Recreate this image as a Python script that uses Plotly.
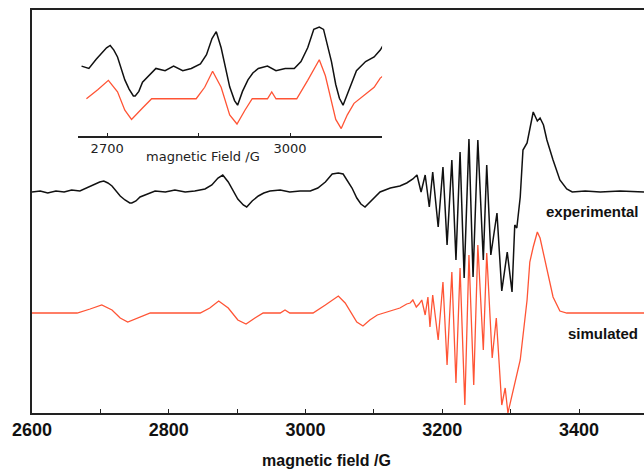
import plotly.graph_objects as go

# ---------------- data ----------------
exp_field = [2600, 2612, 2623, 2635, 2647, 2658, 2670, 2682, 2692, 2699, 2705, 2711, 2717, 2723,
             2729, 2736, 2743, 2746, 2752, 2758, 2769, 2780, 2795, 2809, 2824, 2838, 2853, 2863,
             2872, 2879, 2887, 2894, 2901, 2909, 2914, 2922, 2931, 2939, 2948, 2963, 2977, 2992,
             3007, 3018, 3029, 3039, 3048, 3055, 3062, 3068, 3075, 3081, 3087, 3094, 3102, 3109,
             3124, 3138, 3148, 3157, 3163, 3169, 3175, 3181, 3186, 3194, 3201, 3207, 3214, 3220,
             3226, 3232, 3239, 3245, 3252, 3260, 3265, 3271, 3280, 3287, 3295, 3302, 3306, 3309,
             3314, 3318, 3324, 3328, 3333, 3339, 3343, 3348, 3353, 3362, 3372, 3382, 3390, 3409,
             3431, 3460, 3495]
exp_int = [221, 222, 220, 222, 221, 223, 222, 226, 229, 231, 232, 230, 227, 222,
           217, 213, 210, 210, 212, 216, 219, 222, 221, 223, 221, 222, 224, 228,
           235, 238, 231, 222, 214, 208, 206, 212, 217, 220, 222, 223, 221, 222,
           222, 225, 231, 239, 240, 239, 232, 225, 215, 209, 206, 211, 216, 221,
           225, 227, 230, 234, 238, 221, 238, 206, 241, 186, 246, 168, 253, 153,
           261, 135, 274, 136, 273, 153, 248, 158, 200, 122, 161, 121, 188, 185,
           216, 263, 270, 285, 301, 292, 295, 288, 273, 253, 233, 224, 221, 222,
           221, 222, 221]

sim_field = [2600, 2666, 2685, 2702, 2717, 2729, 2740, 2758, 2773, 2846, 2860, 2873, 2887, 2901,
             2913, 2926, 2938, 2963, 2970, 2977, 3011, 3029, 3048, 3058, 3068, 3075, 3084, 3094,
             3105, 3124, 3138, 3148, 3153, 3157, 3162, 3166, 3170, 3175, 3179, 3182, 3186, 3194,
             3201, 3207, 3214, 3220, 3226, 3233, 3239, 3246, 3252, 3260, 3265, 3273, 3279, 3287,
             3292, 3296, 3303, 3314, 3324, 3328, 3333, 3339, 3343, 3353, 3362, 3372, 3382, 3495]
sim_int = [100, 100, 104, 108, 103, 95, 91, 96, 100, 100, 105, 112, 105, 93,
           89, 95, 100, 100, 103, 100, 100, 108, 117, 110, 98, 91, 87, 93,
           98, 102, 105, 109, 110, 113, 106, 109, 113, 98, 116, 86, 118, 73,
           131, 48, 141, 30, 145, 8, 158, 28, 168, 63, 160, 55, 95, 8,
           25, 0, 20, 53, 113, 151, 166, 181, 175, 143, 116, 102, 100, 100]

exp_base = 221
sim_base = 100
inset_exp_base = 28.3
inset_sim_base = 16.1
inset_lo, inset_hi = 2652, 3151

main_ticks = [2600, 2800, 3000, 3200, 3400]
inset_tickvals = [2700, 2850, 3000]
inset_ticktext = ["2700", "", "3000"]

BLACK = "#111111"
RED = "#ff5435"

# inset series: same data, shifted to its own baselines
def cut(f, v):
    pts = [(a, b) for a, b in zip(f, v) if inset_lo <= a <= inset_hi + 10]
    return [p[0] for p in pts], [p[1] for p in pts]

ief, iev = cut(exp_field, exp_int)
isf, isv = cut(sim_field, sim_int)
iev = [v - exp_base + inset_exp_base for v in iev]
isv = [v - sim_base + inset_sim_base for v in isv]

fig = go.Figure()
fig.add_trace(go.Scatter(x=exp_field, y=exp_int, mode="lines",
                         line=dict(color=BLACK, width=1.5), showlegend=False))
fig.add_trace(go.Scatter(x=sim_field, y=sim_int, mode="lines",
                         line=dict(color=RED, width=1.3), showlegend=False))
fig.add_trace(go.Scatter(x=ief, y=iev, mode="lines", xaxis="x2", yaxis="y2",
                         line=dict(color=BLACK, width=1.5), showlegend=False))
fig.add_trace(go.Scatter(x=isf, y=isv, mode="lines", xaxis="x2", yaxis="y2",
                         line=dict(color=RED, width=1.3), showlegend=False))

fig.update_layout(
    width=644, height=470,
    margin=dict(l=32, r=0, t=10, b=57),
    paper_bgcolor="white", plot_bgcolor="white",
    font=dict(family="Liberation Sans, Arial, sans-serif", color="#111111"),
    xaxis=dict(range=[2600, 3495], domain=[0, 1], showgrid=False, zeroline=False,
               showline=True, linecolor="#222222", linewidth=1.5, mirror=True,
               ticks="inside", ticklen=4, tickwidth=1.2, tickcolor="#222222",
               tickvals=main_ticks,
               tickfont=dict(size=18, weight="bold", color="#111111"),
               minor=dict(ticks="inside", ticklen=4, tickwidth=1.2, tickcolor="#222222", dtick=100)),
    yaxis=dict(range=[0, 403], domain=[0, 1], showgrid=False, zeroline=False,
               showline=True, linecolor="#222222", linewidth=1.5, mirror=False,
               showticklabels=False, ticks=""),
    xaxis2=dict(range=[inset_lo, inset_hi], domain=[0.075, 0.572], anchor="y2",
                showgrid=False, zeroline=False, showline=True, linecolor="#222222",
                linewidth=1.5, ticks="inside", ticklen=3, tickwidth=1.2, tickcolor="#222222",
                tickvals=inset_tickvals, ticktext=inset_ticktext,
                tickfont=dict(family="DejaVu Sans", size=13, color="#222222")),
    yaxis2=dict(range=[0, 50], domain=[0.688, 0.973], anchor="x2",
                showgrid=False, zeroline=False, showline=False,
                showticklabels=False, ticks=""),
    annotations=[
        dict(text="magnetic field /G", xref="paper", yref="paper", x=0.482, y=0,
             yshift=-47, showarrow=False, xanchor="center", yanchor="middle",
             font=dict(size=16, weight="bold", color="#111111")),
        dict(text="magnetic Field /G", xref="paper", yref="paper", x=(203 - 32) / 612,
             y=(413 - 156) / 403, showarrow=False, xanchor="center", yanchor="middle",
             font=dict(family="DejaVu Sans", size=13, color="#222222")),
        dict(text="experimental", xref="paper", yref="paper", x=(641 - 32) / 612,
             y=(413 - 211) / 403, showarrow=False, xanchor="right", yanchor="middle",
             font=dict(size=15, weight="bold", color="#111111")),
        dict(text="simulated", xref="paper", yref="paper", x=(640 - 32) / 612,
             y=(413 - 333) / 403, showarrow=False, xanchor="right", yanchor="middle",
             font=dict(size=15, weight="bold", color="#111111")),
    ],
)

fig.write_html("out.html", config={"displayModeBar": False},
               post_script="document.body.style.margin='0';document.body.style.overflow='hidden';")
